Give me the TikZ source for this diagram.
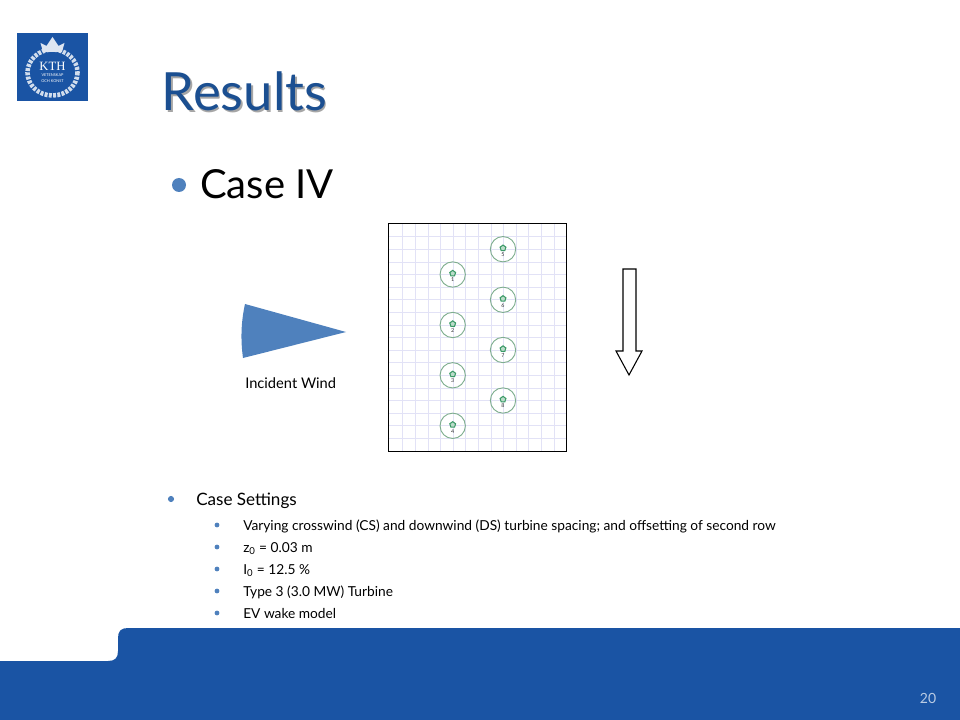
\documentclass[tikz,border=0pt]{standalone}
\usepackage{fontspec}
\setmainfont{Lato}
\newfontfamily\crestfont{Liberation Serif}
\usepackage{tikz}
\usetikzlibrary{positioning,shapes.geometric,arrows}
\definecolor{kthblue}{HTML}{1A54A4}
\definecolor{titleblue}{HTML}{1B4F91}
\definecolor{bulletblue}{HTML}{4F81BD}
\definecolor{gridblue}{HTML}{E2E2F6}
\definecolor{ringgreen}{HTML}{7FAE8F}
\definecolor{hubgreen}{HTML}{3C9A68}
\tikzstyle{turbine}=[draw=ringgreen,circle,line width=0.7pt,minimum size=19pt,inner sep=0pt]
\tikzstyle{hub}=[draw=hubgreen,fill=hubgreen!35,regular polygon,regular polygon sides=5,line width=0.8pt,minimum size=4.6pt,inner sep=0pt]
\tikzstyle{tag}=[font=\fontsize{4}{4.5}\selectfont,text=black!80,inner sep=0pt]
\tikzstyle{lefttext}=[anchor=base west,inner sep=0pt]
\tikzstyle{big}=[bulletblue,circle,fill,inner sep=0pt]
\tikzstyle{setting}=[lefttext,font=\fontsize{10.3}{12}\selectfont]
\begin{document}
\begin{tikzpicture}[x=0.75pt,y=-0.75pt]
    \useasboundingbox (0,0) rectangle (960,720);
    % Footer band
    \fill[kthblue] (0,720) -- (0,661) -- (108,661) .. controls (115,661) and (118,658) .. (118,651)
      -- (118,638) .. controls (118,631) and (121,628) .. (128,628) -- (960,628) -- (960,720) -- cycle;
    \node[text=white!70!kthblue,font=\fontsize{10.5}{12}\selectfont] (page) at (928,698) {20};
    % Logo
    \fill[kthblue] (17,33) rectangle (88,101);
    \draw[white!80!kthblue,line width=3.4pt,dash pattern=on 2.2pt off 1pt] (52.5,72.5) ellipse (25 and 23);
    \node[text=white,font=\crestfont\fontsize{9.5}{10}\selectfont] (kth) at (52.5,66) {KTH};
    \node[text=white,align=center,font=\fontsize{2.9}{4}\selectfont] (motto) at (52.5,78) {VETENSKAP\\OCH KONST};
    \fill[white!85!kthblue] (43,52) -- (40.5,43) -- (46.5,46) -- (52.5,37) -- (58.5,46) -- (64.5,43) -- (62,52) -- cycle;
    % Title
    \node[lefttext,text=black!35,font=\fontsize{39.5}{44}\selectfont] (shade) at (163,112.5) {Results};
    \node[lefttext,text=titleblue,font=\fontsize{39.5}{44}\selectfont] (title) at (161.5,111) {Results};
    \node[big,minimum size=10.5pt] (b0) at (179,185) {};
    \node[lefttext,font=\fontsize{30}{34}\selectfont] (case) at (200,199) {Case IV};
    % Wind
    \fill[bulletblue] (245,304) -- (346,332) -- (243,358) .. controls (240.5,340) and (241,322) .. (245,304) -- cycle;
    \node[lefttext,font=\fontsize{11}{12}\selectfont] (wind) at (245,388) {Incident Wind};
    % Layout
    \foreach \x in {402.7,415.3,...,555} \draw[gridblue,line width=0.5pt] (\x,224) -- (\x,451);
    \foreach \y in {236.7,249.3,...,445} \draw[gridblue,line width=0.5pt] (389,\y) -- (566,\y);
    \draw[line width=0.8pt] (388.5,223.5) rectangle (566.5,451.5);
    \node[turbine] (t1) at (452.7,274.5) {};
    \node[turbine] (t2) at (452.7,325) {};
    \node[turbine] (t3) at (452.7,375.3) {};
    \node[turbine] (t4) at (452.7,425.8) {};
    \node[turbine] (t5) at (503,249.2) {};
    \node[turbine] (t6) at (503,299.8) {};
    \node[turbine] (t7) at (503,350) {};
    \node[turbine] (t8) at (503,400.5) {};
    \foreach \n in {1,...,8} {
      \node[hub] (h\n) at ([yshift=0.8pt]t\n.center) {};
      \node[tag] (n\n) at ([yshift=-4pt]t\n.center) {\n};
    }
    % Direction
    \draw[line width=0.8pt] (623,269) -- (636,269) -- (636,351) -- (642,351) -- (629,375) -- (616,351) -- (623,351) -- cycle;
    % Settings
    \node[big,minimum size=4.6pt] (b1) at (171,499) {};
    \node[lefttext,font=\fontsize{12.8}{14}\selectfont] (s0) at (196,505) {Case Settings};
    \node[big,minimum size=3.6pt] (b2) at (217,525) {};
    \node[setting] (s1) at (243,530) {Varying crosswind (CS) and downwind (DS) turbine spacing; and offsetting of second row};
    \node[big,minimum size=3.6pt] (b3) at (217,547) {};
    \node[setting] (s2) at (243,552) {z\textsubscript{0} = 0.03 m};
    \node[big,minimum size=3.6pt] (b4) at (217,569) {};
    \node[setting] (s3) at (243,574) {I\textsubscript{0} = 12.5 \%};
    \node[big,minimum size=3.6pt] (b5) at (217,591) {};
    \node[setting] (s4) at (243,596) {Type 3 (3.0 MW) Turbine};
    \node[big,minimum size=3.6pt] (b6) at (217,613) {};
    \node[setting] (s5) at (243,618) {EV wake model};
\end{tikzpicture}
\end{document}
